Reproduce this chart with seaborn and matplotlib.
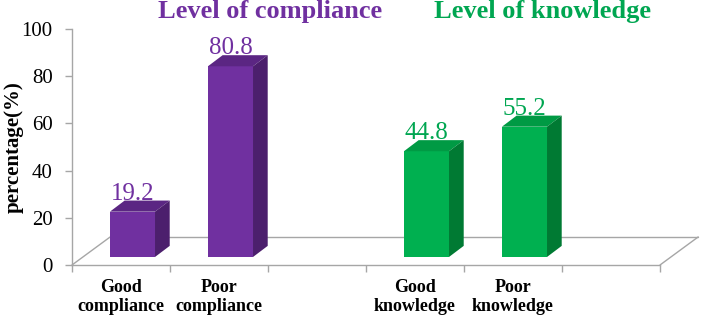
import numpy as np
import pandas as pd
import matplotlib
matplotlib.use("Agg")
import matplotlib.pyplot as plt
import seaborn as sns
from matplotlib.patches import Polygon

# ---- data ----
categories = ["Good\ncompliance", "Poor\ncompliance", " ", "Good\nknowledge", "Poor\nknowledge", "  "]
values = [19.2, 80.8, np.nan, 44.8, 55.2, np.nan]
groups = ["compliance", "compliance", "compliance", "knowledge", "knowledge", "knowledge"]
group_titles = {"compliance": "Level of compliance", "knowledge": "Level of knowledge"}
yticks = [0, 20, 40, 60, 80, 100]

front_colors = {"compliance": "#7030A0", "knowledge": "#00B050"}
top_colors = {"compliance": "#5B2683", "knowledge": "#009A44"}
side_colors = {"compliance": "#4C1F6D", "knowledge": "#007A33"}
label_colors = {"compliance": "#7030A0", "knowledge": "#00A651"}
title_colors = {"compliance": "#7030A0", "knowledge": "#00A651"}

# ---- 3D-look style parameters ----
floor_dx, floor_dy = 0.39, 11.9     # floor depth (x slots, y units)
bar_shift, bar_lift = 0.117, 3.4    # front face position inside floor
bar_dx, bar_dy = 0.15, 4.7          # bar depth
grey = "#A6A6A6"

sns.set_theme(style="white")
plt.rcParams["font.family"] = ["Liberation Serif", "DejaVu Serif"]

fig = plt.figure(figsize=(7.02, 3.18), dpi=100)
ax = fig.add_axes([72 / 702, 53 / 318, 588 / 702, 236 / 318])

df = pd.DataFrame({"cat": categories, "val": values, "grp": groups})
sns.barplot(data=df, x="cat", y="val", hue="grp", order=categories,
            palette=front_colors, dodge=False, width=0.46, saturation=1,
            bottom=bar_lift, linewidth=0, legend=False, ax=ax, zorder=3)

ax.set_xlim(-0.5, len(categories) - 0.5)
ax.set_ylim(0, 100)

# floor outline
x_lo, x_hi = -0.5, len(categories) - 0.5
floor_kw = dict(color=grey, lw=1, clip_on=False, zorder=1)
ax.plot([x_lo + floor_dx, x_hi + floor_dx], [floor_dy, floor_dy], **floor_kw)
ax.plot([x_lo, x_lo + floor_dx], [0, floor_dy], **floor_kw)
ax.plot([x_hi, x_hi + floor_dx], [0, floor_dy], **floor_kw)

# add depth faces and labels
row_by_pos = {i: (v, g) for i, (v, g) in enumerate(zip(values, groups))}
for p in list(ax.patches):
    h = p.get_height()
    if not np.isfinite(h) or h <= 0:
        continue
    pos = int(round(p.get_x() + p.get_width() / 2))
    v, g = row_by_pos[pos]
    x0 = p.get_x() + bar_shift
    p.set_x(x0)
    w = p.get_width()
    b = p.get_y()
    t = b + h
    top = Polygon([(x0, t), (x0 + w, t), (x0 + w + bar_dx, t + bar_dy), (x0 + bar_dx, t + bar_dy)],
                  closed=True, facecolor=top_colors[g], edgecolor="none", zorder=3)
    side = Polygon([(x0 + w, b), (x0 + w + bar_dx, b + bar_dy), (x0 + w + bar_dx, t + bar_dy), (x0 + w, t)],
                   closed=True, facecolor=side_colors[g], edgecolor="none", zorder=3)
    ax.add_patch(top)
    ax.add_patch(side)
    ax.text(x0 + w / 2, t + bar_dy + 0.3, f"{v:.1f}", ha="center", va="baseline",
            fontsize=18, color=label_colors[g], zorder=4)

# group titles
ax.text(1.52, 107.5, group_titles["compliance"], ha="center", va="center", fontsize=19,
        fontweight="bold", color=title_colors["compliance"], clip_on=False)
ax.text(4.3, 107.5, group_titles["knowledge"], ha="center", va="center", fontsize=19,
        fontweight="bold", color=title_colors["knowledge"], clip_on=False)

# axes styling
sns.despine(ax=ax, top=True, right=True)
for s in ["left", "bottom"]:
    ax.spines[s].set_color(grey)
    ax.spines[s].set_linewidth(1)
ax.set_yticks(yticks)
ax.set_yticklabels([str(t) for t in yticks])
ax.tick_params(axis="y", left=True, length=5, width=1, color=grey, labelsize=15, pad=9, labelcolor="black")
ax.set_xticks(range(len(categories)))
ax.set_xticklabels(categories, fontweight="bold", fontsize=13, linespacing=1.2)
ax.set_xticks(np.arange(-0.5, len(categories)), minor=True)
ax.tick_params(axis="x", which="major", bottom=True, length=0, pad=10, labelcolor="black")
ax.tick_params(axis="x", which="minor", bottom=True, length=5, width=1, color=grey)
ax.set_xlabel("")
ax.set_ylabel("percentage(%)", fontweight="bold", fontsize=15, color="black")
ax.yaxis.set_label_coords(-0.083, 0.5)
ax.grid(False)

fig.savefig("out.png", dpi=100)
